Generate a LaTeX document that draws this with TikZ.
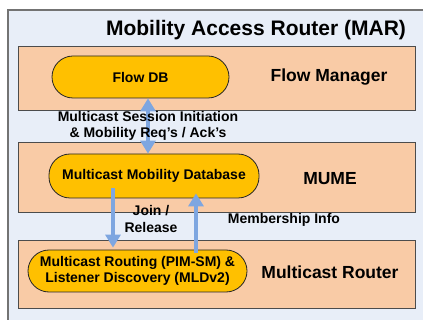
\documentclass[tikz,border=0pt]{standalone}
\usepackage{fontspec}
\setmainfont{Liberation Sans}
\usetikzlibrary{arrows.meta,positioning}
\definecolor{marblue}{HTML}{E8EEF8}
\definecolor{peach}{HTML}{F9CBA6}
\definecolor{gold}{HTML}{FFC000}
\definecolor{arrblue}{HTML}{7EA6E0}

\begin{document}
\begin{tikzpicture}[x=1pt, y=-1pt,
  font=\bfseries\fontsize{14}{16.5}\selectfont,
  layer/.style={draw=black!70, fill=peach, line width=0.8pt, minimum width=397pt},
  pill/.style={draw=black!85, fill=gold, line width=0.8pt, rounded corners=21pt,
               align=center, minimum height=42pt, inner sep=2pt},
  layertxt/.style={font=\bfseries\fontsize{17.5}{20}\selectfont},
  lbl/.style={align=center, inner sep=1pt},
  >={Triangle[length=13pt,width=15pt]},
  arr/.style={draw=arrblue, line width=3.2pt, ->}]

\clip (0,0) rectangle (423,320);
% MAR frame, runs off the page at right and bottom
\draw[fill=marblue, draw=black!55, line width=1.2pt] (8,10) rectangle (450,350);
\node[font=\bfseries\fontsize{21}{24}\selectfont] (title) at (256,30) {Mobility Access Router (MAR)};

% Layers
\node[layer, minimum height=64pt] (fm) at (216.5,78) {};
\node[layer, minimum height=70pt] (mume) at (216.5,177) {};
\node[layer, minimum height=68pt] (mr) at (216.5,274) {};

\node[pill, minimum width=177pt] (flowdb) at (140.5,77) {Flow DB};
\node[layertxt] (fmname) at (329,77) {Flow Manager};

\node[pill, minimum width=210pt, minimum height=44pt] (mmdb) at (154,176) {Multicast Mobility Database};
\node[layertxt] (mumename) at (330,179) {MUME};

\node[pill, minimum width=219pt] (mrpim) at (137.5,271) {Multicast Routing (PIM-SM) \&\\Listener Discovery (MLDv2)};
\node[layertxt] (mrname) at (330,272) {Multicast Router};

% Arrows between layers
\draw[arr, <->] ([xshift=7.5pt]flowdb.south) -- ([xshift=-6pt]mmdb.north);
\draw[arr] ([xshift=-41pt,yshift=10pt]mmdb.south) -- ([xshift=-24.5pt,yshift=2pt]mrpim.north);
\draw[arr] ([xshift=58.5pt,yshift=-3pt]mrpim.north) -- ([xshift=42pt,yshift=5pt]mmdb.south);

\node[lbl] (sess) at (148,126) {Multicast Session Initiation\\\& Mobility Req's / Ack's};
\node[lbl] (join) at (151,219) {Join /\\Release};
\node[lbl] (memb) at (284,220) {Membership Info};
\end{tikzpicture}
\end{document}
